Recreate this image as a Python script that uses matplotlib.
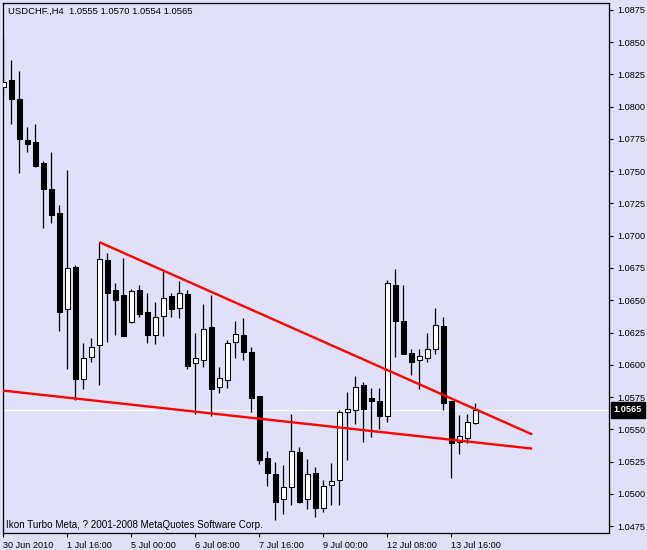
import matplotlib
matplotlib.use("Agg")
import matplotlib.pyplot as plt

# USDCHF H4 candles
opens = [1.0815, 1.0821, 1.0806, 1.0774, 1.0773, 1.0756, 1.0736, 1.0718, 1.0643, 1.0676,
         1.0589, 1.0606, 1.0615, 1.0681, 1.0658, 1.0654, 1.0633, 1.0658, 1.0641, 1.0623,
         1.0638, 1.0653, 1.0644, 1.0655, 1.0601, 1.0604, 1.0629, 1.0583, 1.0588, 1.0618,
         1.0623, 1.0610, 1.0576, 1.0528, 1.0515, 1.0496, 1.0505, 1.0532, 1.0496, 1.0516,
         1.0489, 1.0507, 1.0511, 1.0563, 1.0565, 1.0584, 1.0574, 1.0572, 1.0560, 1.0662,
         1.0634, 1.0609, 1.0604, 1.0605, 1.0612, 1.0630, 1.0572, 1.0540, 1.0543, 1.0555]
highs = [1.0854, 1.0836, 1.0828, 1.0784, 1.0787, 1.0758, 1.0765, 1.0724, 1.0751, 1.0677,
         1.0617, 1.0621, 1.0695, 1.0687, 1.0663, 1.0683, 1.0659, 1.0662, 1.0656, 1.0649,
         1.0673, 1.0656, 1.0665, 1.0658, 1.0625, 1.0647, 1.0654, 1.0598, 1.0619, 1.0634,
         1.0636, 1.0614, 1.0576, 1.0533, 1.0525, 1.0522, 1.0562, 1.0536, 1.0527, 1.0521,
         1.0511, 1.0524, 1.0565, 1.0579, 1.0591, 1.0587, 1.0582, 1.0582, 1.0666, 1.0674,
         1.0662, 1.0612, 1.0612, 1.0625, 1.0644, 1.0637, 1.0572, 1.0561, 1.0562, 1.0570]
lows = [1.0808, 1.0787, 1.0749, 1.0765, 1.0753, 1.0706, 1.0710, 1.0626, 1.0597, 1.0573,
        1.0581, 1.0602, 1.0584, 1.0618, 1.0623, 1.0622, 1.0632, 1.0637, 1.0617, 1.0616,
        1.0622, 1.0637, 1.0636, 1.0597, 1.0562, 1.0598, 1.0560, 1.0578, 1.0582, 1.0605,
        1.0604, 1.0563, 1.0523, 1.0506, 1.0480, 1.0484, 1.0491, 1.0493, 1.0488, 1.0482,
        1.0486, 1.0491, 1.0491, 1.0526, 1.0554, 1.0540, 1.0544, 1.0550, 1.0556, 1.0606,
        1.0608, 1.0592, 1.0581, 1.0602, 1.0608, 1.0565, 1.0512, 1.0531, 1.0539, 1.0554]
closes = [1.0819, 1.0806, 1.0775, 1.0771, 1.0754, 1.0736, 1.0716, 1.0641, 1.0675, 1.0589,
          1.0605, 1.0614, 1.0682, 1.0656, 1.0650, 1.0622, 1.0657, 1.0639, 1.0623, 1.0637,
          1.0652, 1.0643, 1.0656, 1.0599, 1.0605, 1.0628, 1.0581, 1.0590, 1.0617, 1.0624,
          1.0610, 1.0574, 1.0526, 1.0516, 1.0494, 1.0505, 1.0533, 1.0494, 1.0515, 1.0489,
          1.0506, 1.0510, 1.0563, 1.0566, 1.0583, 1.0566, 1.0572, 1.0560, 1.0663, 1.0634,
          1.0608, 1.0602, 1.0607, 1.0612, 1.0631, 1.0570, 1.0539, 1.0545, 1.0556, 1.0565]

time_labels = ["30 Jun 2010", "1 Jul 16:00", "5 Jul 00:00", "6 Jul 08:00",
               "7 Jul 16:00", "9 Jul 00:00", "12 Jul 08:00", "13 Jul 16:00"]
label_bars = [0, 8, 16, 24, 32, 40, 48, 56]

# trendlines as (bar, price) pairs
upper_trend = [(12, 1.0695), (66.1, 1.0546)]
lower_trend = [(-0.06, 1.0580), (66.1, 1.0535)]
bid = 1.0565

bg = "#E0E0F8"
font = "Liberation Sans"

fig = plt.figure(figsize=(6.47, 5.5), dpi=100, facecolor=bg)
ax = fig.add_axes([3 / 647, 17 / 550, 606 / 647, 530 / 550], facecolor=bg)

x = list(range(len(opens)))

# bid line behind everything
ax.axhline(bid, color="white", lw=0.8, zorder=1)

ax.vlines(x, lows, highs, color="black", lw=0.9, zorder=2)
for i in x:
    o, c = opens[i], closes[i]
    bottom = min(o, c)
    h = max(abs(c - o), 0.00001)
    fill = "white" if c > o else "black"
    ax.bar(i, h, bottom=bottom, width=0.55, color=fill, edgecolor="black",
           linewidth=0.75, zorder=3)

for line in (upper_trend, lower_trend):
    xs = [p[0] for p in line]
    ys = [p[1] for p in line]
    ax.plot(xs, ys, color="#FF0000", lw=1.7, zorder=4, solid_capstyle="butt")

ax.set_xlim(-0.06, 75.7)
ax.set_ylim(1.04696, 1.08804)

yt = [1.0475 + 0.0025 * k for k in range(17)]
ax.yaxis.tick_right()
ax.set_yticks(yt)
ax.set_yticklabels([f"{v:.4f}" for v in yt], fontsize=6.6, family=font)
ax.tick_params(axis="y", direction="out", length=3, width=0.8, pad=3, colors="black")

ax.set_xticks(label_bars)
ax.set_xticklabels(time_labels, fontsize=6.6, family=font, ha="left")
ax.tick_params(axis="x", direction="out", length=3, width=0.8, pad=3, colors="black")

for s in ax.spines.values():
    s.set_color("black")
    s.set_linewidth(0.9)

ax.text(0.008, 0.985, "USDCHF.,H4  1.0555 1.0570 1.0554 1.0565", transform=ax.transAxes,
        fontsize=6.8, family=font, va="center", ha="left", color="black")
ax.text(0.005, 0.016, "Ikon Turbo Meta, ? 2001-2008 MetaQuotes Software Corp.",
        transform=ax.transAxes, fontsize=7.1, family=font, va="center", ha="left",
        color="black")

# current price box on the right axis
ax.annotate(f"{bid:.4f}", xy=(1.0, bid), xycoords=("axes fraction", "data"),
            xytext=(3.5, 0), textcoords="offset points", fontsize=6.6, family=font,
            color="white", va="center", ha="left", fontweight="bold",
            bbox=dict(boxstyle="square,pad=0.35", fc="black", ec="black"),
            annotation_clip=False)

fig.savefig("out.png", dpi=100, facecolor=bg)
